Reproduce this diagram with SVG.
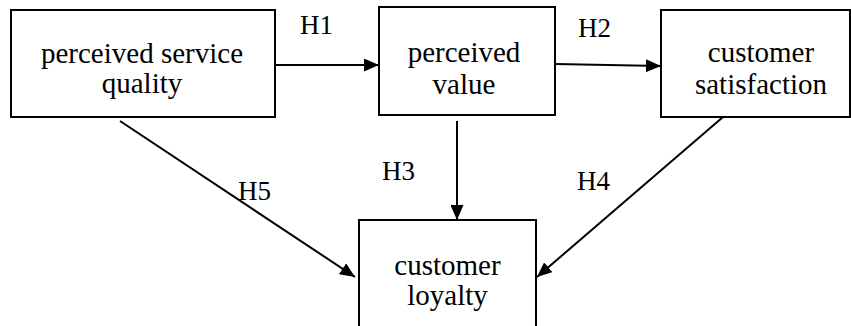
<svg xmlns="http://www.w3.org/2000/svg" width="851" height="326" viewBox="0 0 851 326">
<defs>
<marker id="ah" markerWidth="15" markerHeight="13" refX="15" refY="6.5" orient="auto" markerUnits="userSpaceOnUse" viewBox="0 0 15 13">
<path d="M0,0 L15,6.5 L0,13 z" fill="#000"/>
</marker>
</defs>
<rect width="851" height="326" fill="#fff"/>
<g font-family="Liberation Serif, Times New Roman, serif" font-size="29" fill="#000">
<g id="n1" text-anchor="middle"><rect x="11" y="10" width="264" height="107" fill="#fff" stroke="#000" stroke-width="2"/><text x="142" y="63">perceived service</text><text x="142" y="93">quality</text></g>
<g id="n2" text-anchor="middle"><rect x="379" y="7" width="176" height="108" fill="#fff" stroke="#000" stroke-width="2"/><text x="464" y="62">perceived</text><text x="464" y="94">value</text></g>
<g id="n3" text-anchor="middle"><rect x="661" y="10" width="189" height="107" fill="#fff" stroke="#000" stroke-width="2"/><text x="761" y="62">customer</text><text x="761" y="94">satisfaction</text></g>
<g id="n4" text-anchor="middle"><rect x="359" y="220" width="177" height="120" fill="#fff" stroke="#000" stroke-width="2"/><text x="447.5" y="275">customer</text><text x="447.5" y="305">loyalty</text></g>
<g id="connectors" stroke="#000" stroke-width="2" fill="none" marker-end="url(#ah)">
<line x1="275" y1="65" x2="379" y2="65"/>
<line x1="555" y1="64" x2="661" y2="66"/>
<line x1="457" y1="121" x2="457" y2="220"/>
<line x1="723" y1="117" x2="537" y2="277"/>
<line x1="120" y1="121" x2="355" y2="277"/>
</g>
<g id="labels" font-size="27">
<text x="300" y="34">H1</text>
<text x="578" y="37">H2</text>
<text x="382" y="180">H3</text>
<text x="577" y="190">H4</text>
<text x="238" y="200">H5</text>
</g>
</g>
</svg>
